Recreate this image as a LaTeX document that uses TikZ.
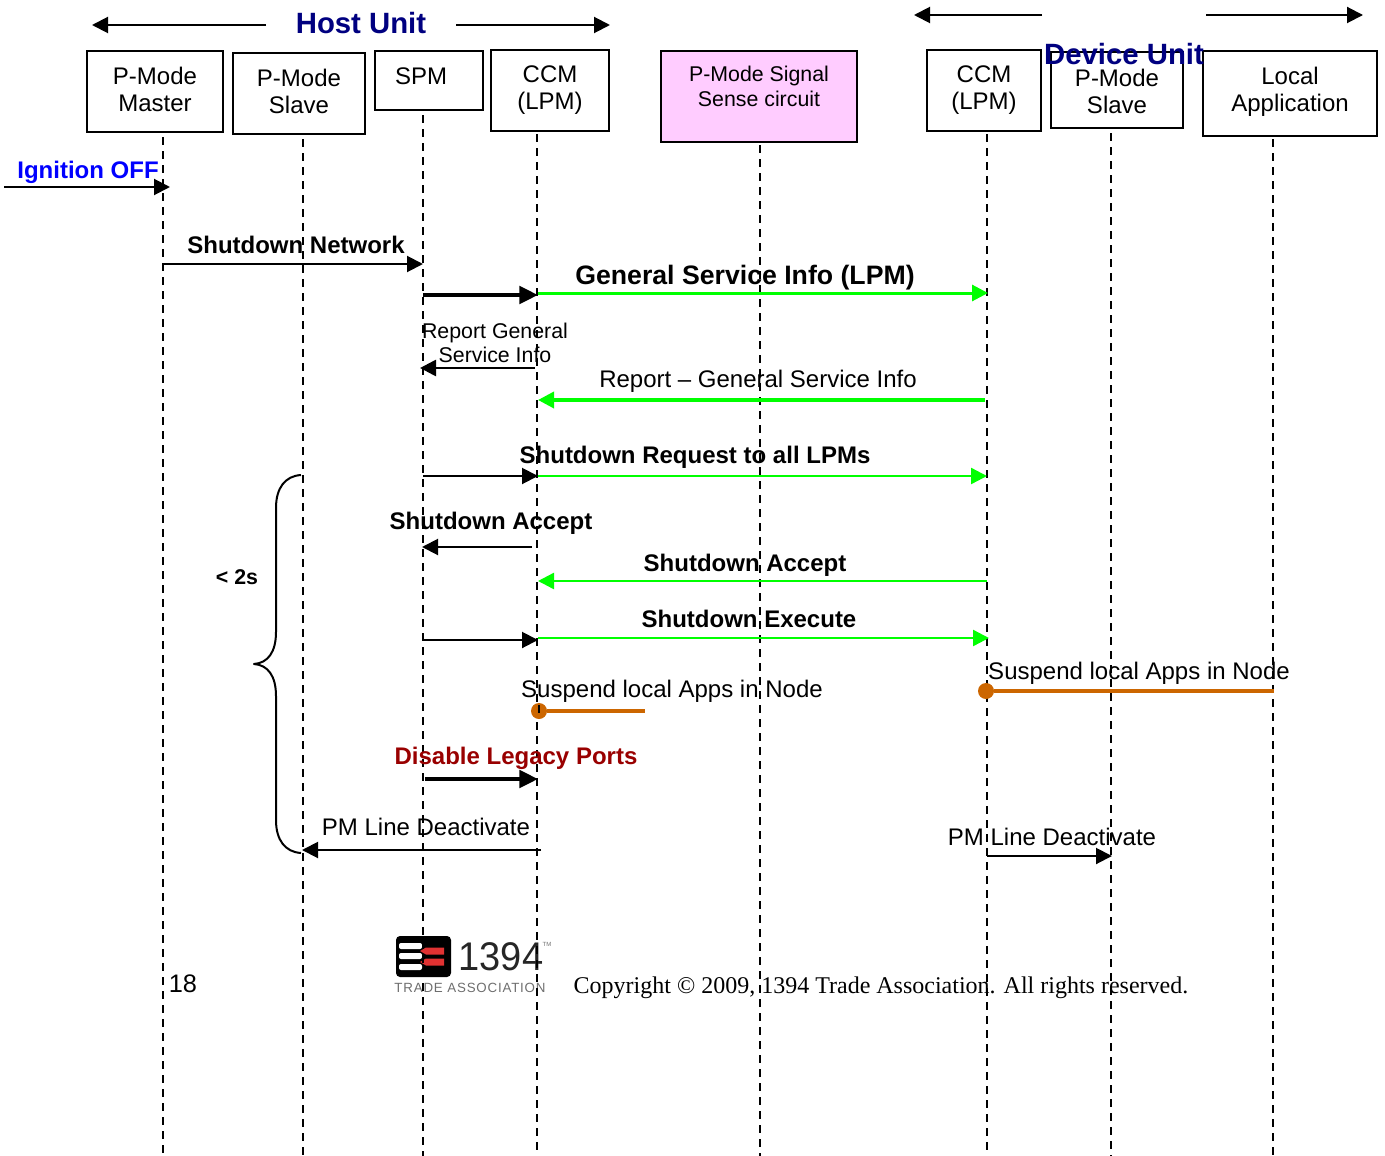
\documentclass[tikz,border=0pt]{standalone}
\usepackage{fontspec}
\setmainfont{Liberation Sans}
\newfontfamily\serifcopy{Liberation Serif}
\usetikzlibrary{arrows.meta}
\definecolor{hostblue}{RGB}{0,0,128}
\definecolor{ignblue}{RGB}{0,0,255}
\definecolor{sigpink}{RGB}{255,204,255}
\definecolor{lime}{RGB}{0,255,0}
\definecolor{susp}{RGB}{204,102,0}
\definecolor{disred}{RGB}{153,0,0}
\definecolor{logored}{RGB}{225,50,50}
\definecolor{logogray}{RGB}{110,110,110}
\tikzset{
  x=0.75pt,y=-0.75pt,
  box/.style={draw=black,line width=1.5pt,fill=white,inner sep=0pt,anchor=north west},
  boxtxt/.style={font=\fontsize{18}{20.2}\selectfont,align=center,inner sep=0pt,text=black},
  life/.style={draw=black,line width=1.5pt,dash pattern=on 6pt off 4.5pt},
  tip/.style={-{Triangle[length=12pt,width=12pt]}},
  msg/.style={tip,line width=1.5pt,black},
  bigmsg/.style={-{Triangle[length=14pt,width=13pt]},line width=3pt,black},
  grn/.style={-{Triangle[length=12pt,width=12pt]},line width=2.25pt,lime},
  thinb/.style={font=\bfseries\fontsize{18}{20}\selectfont,inner sep=0pt},
  thinr/.style={font=\fontsize{18}{20}\selectfont,inner sep=0pt},
  small/.style={font=\fontsize{16}{18.5}\selectfont,inner sep=0pt,align=center},
  unit/.style={font=\bfseries\fontsize{22}{24}\selectfont,text=hostblue,inner sep=0pt},
  suspline/.style={line width=3pt,susp},
  dotmark/.style={circle,fill=susp,inner sep=0pt,minimum size=12pt},
}
\begin{document}
\begin{tikzpicture}
\useasboundingbox (0,0) rectangle (1385,1156);

% boxes
\node[box,minimum width=102pt,minimum height=60.75pt] (mm) at (86,50) {};
\node[box,minimum width=99pt,minimum height=60.75pt] (ms) at (232,52) {};
\node[box,minimum width=81pt,minimum height=44.25pt] (spm) at (374,50) {};
\node[box,minimum width=88.5pt,minimum height=60.75pt] (ccma) at (490,49) {};
\node[box,fill=sigpink,minimum width=147pt,minimum height=68.25pt] (sig) at (660,50) {};
\node[box,minimum width=85.5pt,minimum height=60.75pt] (ccmb) at (926,49) {};
\node[box,minimum width=99pt,minimum height=57pt] (sl) at (1050,51) {};
\node[box,minimum width=130.5pt,minimum height=63.75pt] (app) at (1202,50) {};

% lifeline ends
\coordinate (lmm) at (163,1156);
\coordinate (lms) at (303,1156);
\coordinate (lspm) at (423,1156);
\coordinate (lccma) at (537,1156);
\coordinate (lsig) at (760,1156);
\coordinate (lccmb) at (987,1156);
\coordinate (lsl) at (1111,1156);
\coordinate (lapp) at (1273,1156);

% logo
\fill[black,rounded corners=3pt] (396,936) rectangle (451,977);
\foreach \yy in {946,956,967}{\fill[white,rounded corners=1.5pt] (399,\yy-3) rectangle (422,\yy+3);}
\foreach \yy in {951,962}{\fill[logored] (420,\yy) -- (426,\yy-3.5) -- (444,\yy-3.5) -- (444,\yy+3.5) -- (426,\yy+3.5) -- cycle;}
\node[inner sep=0pt,font=\fontsize{30}{32}\selectfont,text=black!85,xscale=0.95,transform shape] (logonum) at (501,957) {1394};
\node[inner sep=0pt,font=\fontsize{4.5}{5}\selectfont,text=logogray] (logotm) at (547,944) {TM};
\node[inner sep=0pt,font=\fontsize{10}{11}\selectfont,text=logogray] (logotxt) at (470,988) {\addfontfeatures{LetterSpace=6}TRADE ASSOCIATION};

% lifelines
\draw[life] (mm.south -| lmm) ++(0,4) -- (lmm);
\draw[life] (ms.south -| lms) ++(0,4) -- (lms);
\draw[life] (spm.south -| lspm) ++(0,4) -- (lspm);
\draw[life] (ccma.south -| lccma) ++(0,2) -- (lccma);
\draw[life] (sig.south -| lsig) ++(0,2) -- (lsig);
\draw[life] (ccmb.south -| lccmb) ++(0,2) -- (lccmb);
\draw[life] (sl.south -| lsl) ++(0,4) -- (lsl);
\draw[life] (app.south -| lapp) ++(0,2) -- (lapp);

% box texts
\node[boxtxt] (tmm) at (155,89) {P-Mode\\Master};
\node[boxtxt] (tms) at (299,91) {P-Mode\\Slave};
\node[boxtxt] (tspm) at (421,76) {SPM};
\node[boxtxt] (tccma) at (550,90) {CCM\\(LPM)};
\node[boxtxt,font=\fontsize{16}{18.7}\selectfont] (tsig) at (759,86) {P-Mode Signal\\Sense circuit};
\node[boxtxt] (tccmb) at (984,90) {CCM\\(LPM)};
\node[boxtxt] (tsl) at (1117,91) {P-Mode\\Slave};
\node[boxtxt] (tapp) at (1290,92) {Local\\Application};

% unit headers
\node[unit] (host) at (361,23) {Host Unit};
\node[unit] (dev) at (1124,54) {Device Unit};
\coordinate (ha) at (266,25); \coordinate (hb) at (92,25);
\coordinate (hc) at (456,25); \coordinate (hd) at (610,25);
\coordinate (da) at (1042,15); \coordinate (db) at (914,15);
\coordinate (dc) at (1206,15); \coordinate (dd) at (1363,15);
\draw[msg] (ha) -- (hb);
\draw[msg] (hc) -- (hd);
\draw[msg] (da) -- (db);
\draw[msg] (dc) -- (dd);

% ignition
\coordinate (ia) at (4,187); \coordinate (ib) at (170,187);
\draw[msg] (ia) -- (ib);
\node[thinb,text=ignblue] (ign) at (88,172) {Ignition OFF};

% shutdown network
\coordinate (sna) at (163,264); \coordinate (snb) at (423,264);
\draw[msg] (sna) -- (snb);
\node[thinb] (sn) at (296,245) {Shutdown Network};

% general service info
\coordinate (ga) at (423,295); \coordinate (gb) at (538,295);
\coordinate (gc) at (538,293); \coordinate (gd) at (988,293);
\draw[bigmsg] (ga) -- (gb);
\draw[grn] (gc) -- (gd);
\node[inner sep=0pt,font=\bfseries\fontsize{20}{22}\selectfont] (gsi) at (745,278) {General Service Info (LPM)};

% report
\coordinate (ra) at (535,368); \coordinate (rb) at (420,368);
\draw[msg,line width=2pt] (ra) -- (rb);
\node[small] (rep) at (495,343) {Report General\\Service Info};
\coordinate (rc) at (985,400); \coordinate (rd) at (538,400);
\draw[grn,line width=2.6pt] (rc) -- (rd);
\node[thinr] (rep2) at (758,381) {Report – General Service Info};

% shutdown request
\coordinate (qa) at (423,476); \coordinate (qb) at (538,476);
\coordinate (qc) at (538,476); \coordinate (qd) at (987,476);
\draw[msg] (qa) -- (qb);
\draw[grn,line width=1.8pt] (qc) -- (qd);
\node[thinb] (req) at (695,457) {Shutdown Request to all LPMs};

% shutdown accept
\coordinate (aa) at (532,547); \coordinate (ab) at (422,547);
\draw[msg] (aa) -- (ab);
\node[thinb] (acc) at (491,523) {Shutdown Accept};
\coordinate (ac) at (987,581); \coordinate (ad) at (538,581);
\draw[grn,line width=1.8pt] (ac) -- (ad);
\node[thinb] (acc2) at (745,565) {Shutdown Accept};

% shutdown execute
\coordinate (ea) at (423,640); \coordinate (eb) at (538,640);
\coordinate (ec) at (538,638); \coordinate (ed) at (989,638);
\draw[msg] (ea) -- (eb);
\draw[grn,line width=1.8pt] (ec) -- (ed);
\node[thinb] (exe) at (749,619) {Shutdown Execute};

% suspend
\node[dotmark] (da1) at (539,711) {};
\coordinate (sa) at (645,711);
\draw[suspline] (da1) -- (sa);
\draw[life,shorten >=0pt] (539,705) -- (539,716);
\node[thinr] (su1) at (672,691) {Suspend local Apps in Node};
\node[dotmark] (da2) at (986,691) {};
\coordinate (sb) at (1274,691);
\draw[suspline] (da2) -- (sb);
\node[thinr] (su2) at (1139,673) {Suspend local Apps in Node};

% disable
\coordinate (xa) at (425,779); \coordinate (xb) at (538,779);
\draw[bigmsg] (xa) -- (xb);
\node[thinb,text=disred] (dis) at (516,758) {Disable Legacy Ports};

% PM line
\coordinate (pa) at (541,850); \coordinate (pb) at (302,850);
\draw[msg] (pa) -- (pb);
\node[thinr] (pm1) at (426,827) {PM Line Deactivate};
\coordinate (pc) at (987,856); \coordinate (pd) at (1112,856);
\draw[msg] (pc) -- (pd);
\node[thinr] (pm2) at (1052,837) {PM Line Deactivate};

% brace
\draw[black,line width=1.5pt,line join=round] (301,475) .. controls (285,476) and (276,488) .. (276,508)
  -- (276,632) .. controls (276,652) and (268,663) .. (254,664)
  .. controls (268,665) and (276,676) .. (276,696)
  -- (276,820) .. controls (276,840) and (285,852) .. (301,853);
\node[inner sep=0pt,font=\bfseries\fontsize{16}{18}\selectfont] (lt) at (237,577) {< 2s};

% footer
\node[inner sep=0pt,font=\fontsize{19}{21}\selectfont] (num) at (183,984) {18};
\node[inner sep=0pt,font=\serifcopy\fontsize{18}{20}\selectfont] (copy) at (881,988) {Copyright © 2009, 1394 Trade Association. All rights reserved.};
\end{tikzpicture}
\end{document}
